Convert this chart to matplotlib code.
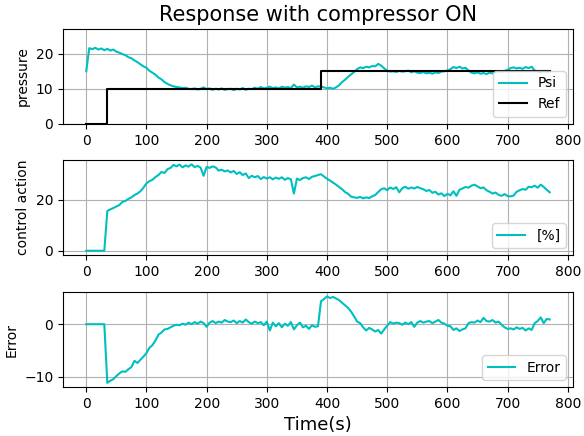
"""Response with compressor ON: pressure, control action, error vs time."""
import matplotlib
matplotlib.use("Agg")
import matplotlib.pyplot as plt
import numpy as np

# sample time (s), every 5 s from 0 to 770
time_s = np.arange(0, 771, 5)

psi = [
    15.0, 21.6, 21.3, 21.7, 21.2, 21.5, 21.0, 21.4, 20.9, 21.2,
    20.6, 20.3, 19.9, 19.6, 19.0, 18.7, 18.1, 17.6, 17.0, 16.4,
    16.0, 15.1, 14.6, 14.0, 13.2, 12.7, 11.9, 11.4, 11.0, 10.7,
    10.5, 10.4, 10.2, 10.3, 10.0, 9.9, 10.1, 9.8, 10.0, 10.4,
    9.9, 10.1, 9.7, 10.0, 9.8, 10.1, 9.7, 9.9, 10.0, 9.6,
    10.0, 9.8, 10.2, 9.7, 10.0, 9.9, 10.3, 10.0, 10.5, 10.1,
    10.3, 10.6, 10.2, 10.4, 10.1, 10.6, 10.3, 10.5, 10.2, 11.2,
    10.4, 10.6, 10.3, 10.7, 10.5, 10.9, 10.4, 10.7, 10.6, 10.4,
    10.1, 10.3, 10.0, 10.4, 11.0, 11.9, 12.6, 13.4, 14.1, 14.8,
    15.6, 16.1, 15.9, 16.3, 16.1, 16.5, 16.4, 17.1, 16.6, 15.8,
    15.2, 14.9, 15.0, 14.8, 15.1, 14.9, 15.0, 15.2, 14.7, 15.0,
    14.6, 14.5, 14.8, 14.4, 14.6, 14.3, 14.7, 14.5, 14.9, 15.0,
    15.2, 15.6, 16.2, 15.9, 16.3, 15.8, 16.0, 15.2, 14.6, 14.4,
    14.7, 14.3, 14.5, 14.2, 14.6, 14.4, 14.8, 15.0, 14.9, 15.1,
    15.4, 15.9, 16.1, 15.8, 16.0, 15.7, 16.2, 15.9, 16.3, 15.2,
    15.0, 14.8, 15.1, 14.9, 15.0,
]

# reference set point (step changes)
ref_t = [0, 34, 34, 390, 390, 770]
ref_v = [0, 0, 10, 10, 15, 15]

control = [
    0, 0, 0, 0, 0, 0, 0, 15.6, 16.3, 16.8,
    17.4, 18.0, 19.2, 19.6, 20.4, 21.0, 21.9, 22.5, 23.4, 24.8,
    26.5, 27.4, 27.9, 29.0, 29.8, 31.0, 30.6, 32.1, 32.6, 33.8,
    33.2, 33.9, 32.8, 33.6, 33.1, 34.0, 32.9, 33.4, 32.7, 29.5,
    33.0, 32.6, 33.2, 32.8, 31.5, 31.9, 31.2, 31.6, 30.8, 31.4,
    30.2, 30.9, 29.8, 30.4, 28.6, 29.5, 28.9, 29.4, 28.2, 29.0,
    28.4, 28.9, 28.1, 28.8, 28.3, 28.9, 27.9, 28.6, 28.1, 22.5,
    28.4, 27.8, 28.6, 28.9, 28.2, 29.1, 29.4, 29.8, 30.1, 29.2,
    28.3, 27.6, 26.8, 26.0, 25.1, 24.2, 23.1, 22.4, 21.3, 21.0,
    20.8, 21.2, 20.6, 21.0, 20.7, 21.4, 21.9, 23.1, 24.2, 24.6,
    23.8, 24.9, 24.3, 25.0, 23.0, 24.6, 25.2, 24.4, 24.9, 24.5,
    25.1, 24.6, 24.2, 23.5, 23.9, 22.8, 23.2, 22.1, 22.6, 21.5,
    22.4, 21.8, 23.4, 21.6, 24.0, 24.5, 25.1, 24.8, 25.6, 26.0,
    25.3, 24.6, 24.9, 23.8, 23.2, 22.5, 22.9, 22.0, 21.6, 22.3,
    21.5, 21.4, 21.7, 23.2, 23.8, 24.3, 24.0, 25.2, 25.0, 25.6,
    24.8, 26.0, 25.1, 24.0, 23.0,
]

error = [
    0, 0, 0, 0, 0, 0, 0, -11.2, -10.8, -10.5,
    -9.9, -9.4, -9.0, -9.1, -8.6, -8.2, -7.0, -7.4, -6.8, -6.2,
    -5.5, -4.5, -4.0, -3.1, -2.0, -1.6, -1.0, -0.9, -0.6, -0.3,
    -0.1, -0.2, 0.1, -0.1, 0.3, 0.0, 0.4, 0.1, 0.5, 0.2,
    -0.5, 0.3, 0.6, 0.2, 0.5, 0.3, 0.8, 0.5, 0.4, 0.7,
    0.2, 0.6, 0.3, 0.9, 0.4, 0.1, 0.5, 0.2, 0.4, -0.2,
    0.5, -1.2, 0.3, -0.4, 0.2, -0.6, 0.1, -0.3, 0.4, -1.0,
    -0.2, 0.3, -0.6, -0.3, -0.9, -0.2, -0.5, -0.4, 4.4, 4.8,
    5.3, 5.0, 5.2, 4.9, 4.6, 4.1, 3.6, 3.1, 2.4, 1.5,
    0.5, 0.2, -0.6, -1.2, -0.7, -1.0, -1.4, -1.1, -1.8, -1.0,
    -0.3, 0.4, 0.1, 0.3, 0.2, -0.1, 0.3, 0.0, 0.4, -0.5,
    0.3, 0.6, 0.3, 0.5, 0.6, 0.2, 0.5, 0.8, 0.3, 0.1,
    -0.3, -0.4, -1.1, -0.8, -1.3, -1.0, -0.8, 0.2, 0.4, 0.3,
    0.7, 0.4, 1.2, 0.6, 0.5, 0.8, 0.3, 0.5, -0.1, -0.6,
    -0.9, -0.8, -1.0, -0.6, -0.9, -0.7, -1.2, -0.8, -1.1, 0.2,
    0.6, 1.3, 0.2, 1.0, 0.9,
]


def main():
    fig = plt.figure(figsize=(5.84, 4.36), dpi=100)
    left, width = 0.108, 0.873
    ax1 = fig.add_axes([left, 0.716, width, 0.217])
    ax2 = fig.add_axes([left, 0.415, width, 0.218])
    ax3 = fig.add_axes([left, 0.112, width, 0.218])

    ax1.plot(time_s, psi, color="c", lw=1.5, label="Psi")
    ax1.plot(ref_t, ref_v, color="k", lw=1.5, label="Ref")
    ax1.set_ylim(0, 27)
    ax1.set_ylabel("pressure")
    ax1.set_title("Response with compressor ON", fontsize=15)
    ax1.legend(loc="lower right")

    ax2.plot(time_s, control, color="c", lw=1.5, label="[%]")
    ax2.set_ylabel("control action")
    ax2.legend(loc="lower right")

    ax3.plot(time_s, error, color="c", lw=1.5, label="Error")
    ax3.set_ylabel("Error")
    ax3.set_xlabel("Time(s)", fontsize=13)
    ax3.legend(loc="lower right")

    for ax in (ax1, ax2, ax3):
        ax.set_xlim(-38.5, 808.5)
        ax.set_xticks(range(0, 801, 100))
        ax.grid(True)

    fig.savefig("out.png", dpi=100)
    plt.close(fig)


if __name__ == "__main__":
    main()
